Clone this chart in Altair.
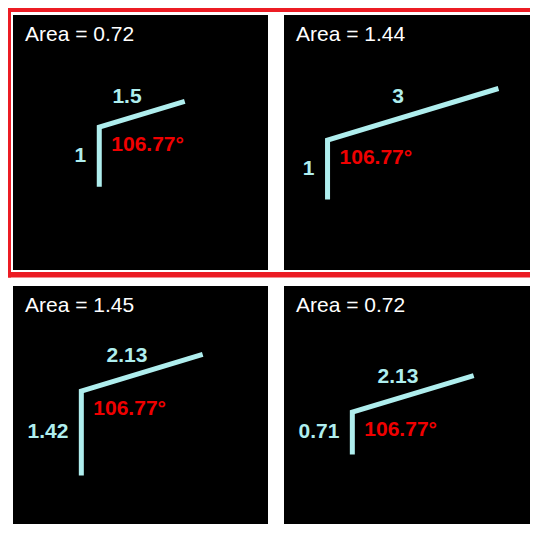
import math
import altair as alt
import pandas as pd

# ---- data ----
side_vertical = [1.0, 1.0, 1.42, 0.71]
side_slanted = [1.5, 3.0, 2.13, 2.13]
vertical_labels = ["1", "1", "1.42", "0.71"]
slanted_labels = ["1.5", "3", "2.13", "2.13"]
area_labels = ["0.72", "1.44", "1.45", "0.72"]
angle_deg = 106.77
angle_label = "106.77°"

# ---- styling / layout ----
CENTER_PX = 129       # figure centre inside a panel (pixels from top/left)
PX_PER_UNIT = 59.5
OFF = CENTER_PX / PX_PER_UNIT
COL_W = [255, 246]    # right column is cut off by the window
ROW_H = [255, 238]    # bottom row is cut off by the window
LINE_COLOR = "#AFEEEE"
ANGLE_COLOR = "#F00000"
FRAME_COLOR = "#EC1C24"
FONT = "Liberation Sans"


def panel(i, frame=False):
    w = COL_W[i % 2]
    h = ROW_H[i // 2]
    a = side_vertical[i]
    b = side_slanted[i]
    t = math.radians(angle_deg - 90)
    ex, ey = b * math.cos(t), b * math.sin(t)
    pts = pd.DataFrame({"x": [0.0, 0.0, ex], "y": [-a, 0.0, ey], "o": [0, 1, 2]})
    cx, cy = ex / 2, (ey - a) / 2
    x0 = cx - OFF
    y1 = cy + OFF
    xs = alt.Scale(domain=[x0, x0 + w / PX_PER_UNIT], nice=False, zero=False)
    ys = alt.Scale(domain=[y1 - h / PX_PER_UNIT, y1], nice=False, zero=False)

    lab = pd.DataFrame({
        "mx": [ex / 2], "my": [ey / 2],
        "vx": [0.0], "vy": [-a / 2],
        "ox": [0.0], "oy": [0.0],
        "slant": [slanted_labels[i]],
        "vert": [vertical_labels[i]],
        "ang": [angle_label],
        "area": [f"Area = {area_labels[i]}"],
    })

    line = alt.Chart(pts).mark_line(
        color=LINE_COLOR, strokeWidth=5, strokeCap="butt", strokeJoin="miter"
    ).encode(
        x=alt.X("x:Q", scale=xs, axis=None),
        y=alt.Y("y:Q", scale=ys, axis=None),
        order="o:Q",
    )
    base = alt.Chart(lab)
    slant_t = base.mark_text(
        font=FONT, fontSize=21, fontWeight="bold", color=LINE_COLOR,
        align="center", baseline="middle", dx=-15, dy=-17,
    ).encode(x=alt.X("mx:Q", scale=xs, axis=None),
             y=alt.Y("my:Q", scale=ys, axis=None), text="slant:N")
    vert_t = base.mark_text(
        font=FONT, fontSize=21, fontWeight="bold", color=LINE_COLOR,
        align="right", baseline="middle", dx=-13, dy=-1,
    ).encode(x=alt.X("vx:Q", scale=xs, axis=None),
             y=alt.Y("vy:Q", scale=ys, axis=None), text="vert:N")
    ang_t = base.mark_text(
        font=FONT, fontSize=21, fontWeight="bold", color=ANGLE_COLOR,
        align="left", baseline="middle", dx=12, dy=18,
    ).encode(x=alt.X("ox:Q", scale=xs, axis=None),
             y=alt.Y("oy:Q", scale=ys, axis=None), text="ang:N")
    area_t = base.mark_text(
        font=FONT, fontSize=21, color="white", align="left", baseline="alphabetic",
    ).encode(x=alt.value(12), y=alt.value(26), text="area:N")

    layers = [line, slant_t, vert_t, ang_t, area_t]
    if frame:
        one = alt.Chart(pd.DataFrame({"k": [0]}))
        right = 517
        bar = dict(color=FRAME_COLOR, clip=False, strokeWidth=0)
        layers += [
            one.mark_rect(**bar).encode(
                x=alt.value(-5), x2=alt.value(right), y=alt.value(-7), y2=alt.value(-3)),
            one.mark_rect(**bar).encode(
                x=alt.value(-5), x2=alt.value(right), y=alt.value(257), y2=alt.value(262.5)),
            one.mark_rect(**bar).encode(
                x=alt.value(-5), x2=alt.value(-2), y=alt.value(-7), y2=alt.value(262.5)),
        ]
    return alt.layer(*layers).properties(width=w, height=h)


chart = alt.concat(
    panel(0, frame=True), panel(1), panel(2), panel(3),
    columns=2, spacing=16, bounds="flush",
).properties(
    padding=0, background="white"
).configure_view(
    fill="black", stroke=None
)

chart.save("out.html", embed_options={"renderer": "svg", "actions": False})
